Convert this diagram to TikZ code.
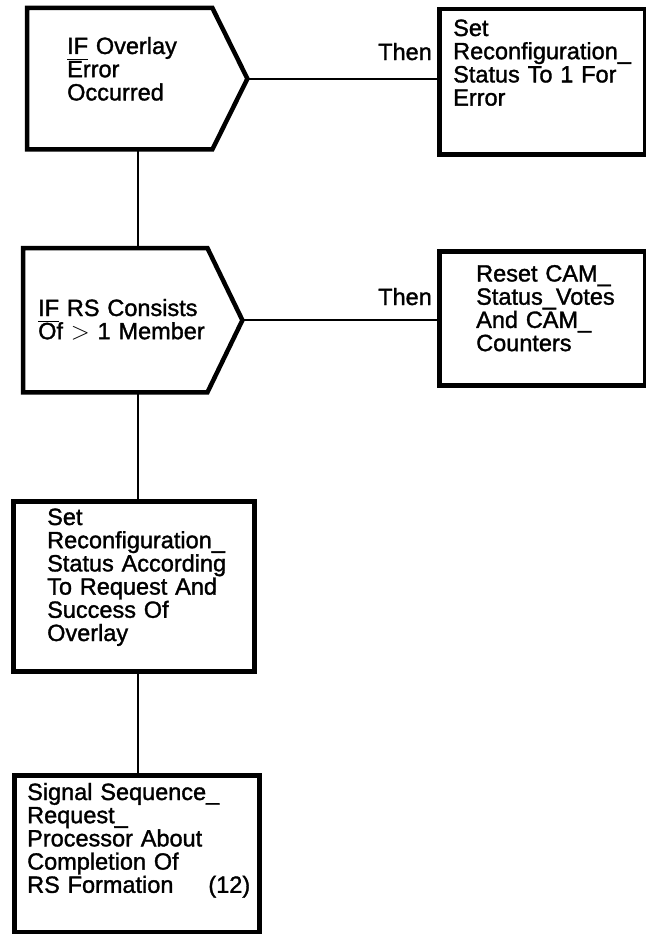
\documentclass[tikz,border=0pt]{standalone}
\usepackage{fontspec}
\setmainfont{Liberation Sans}[FakeBold=1.4]
\usetikzlibrary{calc}

% underline that sits a little lower than \underline alone
\newcommand{\lowline}[1]{\smash{\underline{#1\vrule width 0pt depth 3.5pt}}}

\tikzset{
  frame/.style={draw=black, line width=4.5pt, fill=white, inner sep=0pt, anchor=north west},
  flat/.style={inner sep=0pt, anchor=north west},
  outline/.style={draw=black, line width=4.5pt, fill=white},
  words/.style={anchor=base west, inner sep=0pt, align=left, text width=#1,
                font=\fontsize{23.5}{23.2}\selectfont},
  words/.default=230pt,
  link/.style={line width=1.8pt},
}

\begin{document}
\begin{tikzpicture}[x=1pt, y=-1pt]
\useasboundingbox (0,0) rectangle (645,934);

% IF boxes: a node for the flat part, the point is added by hand
\node[flat, minimum width=185pt, minimum height=141pt] at (27,8) (ovlerr) {};
\coordinate (ovlerrtip) at ($(ovlerr.east)+(35,0)$);
\draw[outline] (ovlerr.north west) -- (ovlerr.north east) -- (ovlerrtip)
      -- (ovlerr.south east) -- (ovlerr.south west) -- cycle;

\node[flat, minimum width=184pt, minimum height=144pt] at (23,248) (rsmem) {};
\coordinate (rsmemtip) at ($(rsmem.east)+(35,0)$);
\draw[outline] (rsmem.north west) -- (rsmem.north east) -- (rsmemtip)
      -- (rsmem.south east) -- (rsmem.south west) -- cycle;

% plain boxes
\node[frame, minimum width=206pt, minimum height=145pt] at (437,7)
      (seterr) {};
\node[frame, minimum width=206pt, minimum height=134pt] at (437,249)
      (resetcam) {};
\node[frame, minimum width=241pt, minimum height=170pt] at (11,499)
      (setstat) {};
\node[frame, minimum width=245pt, minimum height=157pt] at (12,773)
      (sigseq) {};

% texts
\node[words] at (67,54) (ovlerrtxt) {\lowline{IF} Overlay\\Error\\Occurred};
\node[words] at (453,36) (seterrtxt)
      {Set\\Reconfiguration\_\\Status To 1 For\\Error};
\node[words] at (38,316) (rsmemtxt) {\lowline{IF} RS Consists\\Of $>$ 1 Member};
\node[words] at (476,281.5) (resetcamtxt)
      {Reset CAM\_\\Status\_Votes\\And CAM\_\\Counters};
\node[words] at (47,525) (setstattxt)
      {Set\\Reconfiguration\_\\Status According\\To Request And\\Success Of\\Overlay};
\node[words=223pt] at (27,800) (sigseqtxt)
      {Signal Sequence\_\\Request\_\\Processor About\\Completion Of\\RS Formation\hfill(12)};
\node[words] at (378,60) (then1) {Then};
\node[words] at (378,305) (then2) {Then};

% lines
\coordinate (spine) at (138,0);
\draw[link] (ovlerrtip) -- (ovlerrtip -| seterr.west);
\draw[link] (rsmemtip) -- (rsmemtip -| resetcam.west);
\draw[link] (ovlerr.south -| spine) -- (rsmem.north -| spine);
\draw[link] (rsmem.south -| spine) -- (setstat.north -| spine);
\draw[link] (setstat.south -| spine) -- (sigseq.north -| spine);
\end{tikzpicture}
\end{document}
